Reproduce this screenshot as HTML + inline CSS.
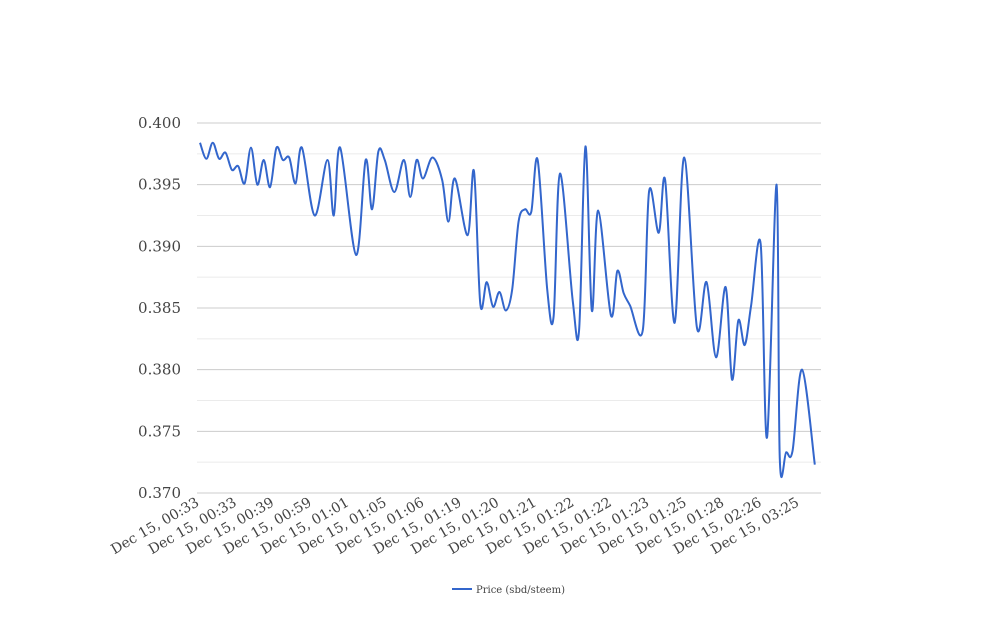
<!DOCTYPE html>
<html><head><meta charset="utf-8"><style>
body{margin:0;background:#fff;width:1008px;height:616px;overflow:hidden}
svg text{font-family:"DejaVu Serif","Liberation Serif",serif;fill:#444}
</style></head><body>
<svg id="chart" width="1008" height="616" xmlns="http://www.w3.org/2000/svg">
<g id="grid"></g>
<g id="yaxis"></g>
<g id="xaxis"></g>
<path id="line" fill="none" stroke="#3366cc" stroke-width="2"></path>
<g>
<line x1="452" y1="589" x2="472" y2="589" stroke="#3366cc" stroke-width="2"/>
<text x="476" y="593" font-size="10" fill="#222">Price (sbd/steem)</text>
</g>
</svg>
<script>
const xLabels=["Dec 15, 00:33","Dec 15, 00:33","Dec 15, 00:39","Dec 15, 00:59","Dec 15, 01:01","Dec 15, 01:05","Dec 15, 01:06","Dec 15, 01:19","Dec 15, 01:20","Dec 15, 01:21","Dec 15, 01:22","Dec 15, 01:22","Dec 15, 01:23","Dec 15, 01:25","Dec 15, 01:28","Dec 15, 02:26","Dec 15, 03:25"];
const yTicks=[0.370,0.375,0.380,0.385,0.390,0.395,0.400];
// sample position (0..100 along time axis) and price
const samplePos=[0,1,2,3,4,5,6,7,8,9,10,11,12,13,14,15,16,18,20,21,22,24.5,26,27,28,29,30.5,32,33,34,35,36.5,38,39,40,42,43,44,45,46,47,48,49,50,51,52,53,54.5,55.5,56.5,58.5,59.5,60.5,61.5,62.5,64.5,65.5,66.5,67.5,69.5,70.5,72,73,74.5,76,78,79.5,81,82.5,83.5,84.5,85.5,86.5,88,89,90.5,91,92,93,94.5,96.5];
const prices=[0.3984,0.3971,0.3984,0.3971,0.3976,0.3962,0.3965,0.3951,0.3980,0.3950,0.3970,0.3948,0.3980,0.3970,0.3972,0.3951,0.3980,0.3925,0.3970,0.3925,0.3980,0.3893,0.3970,0.3930,0.3977,0.3970,0.3944,0.3970,0.3940,0.3970,0.3955,0.3972,0.3954,0.3920,0.3955,0.3909,0.3961,0.3853,0.3871,0.3851,0.3863,0.3848,0.3865,0.3920,0.3930,0.3928,0.3970,0.3865,0.3843,0.3959,0.3856,0.3832,0.3981,0.3848,0.3929,0.3844,0.3880,0.3862,0.3852,0.3832,0.3945,0.3911,0.3954,0.3838,0.3972,0.3834,0.3871,0.3810,0.3867,0.3792,0.3840,0.3820,0.3852,0.3902,0.3745,0.3950,0.3728,0.3733,0.3734,0.3800,0.3723,0.3719];
const NS="http://www.w3.org/2000/svg";
const L=197,R=821,T=123,B=493,yMin=0.370,yMax=0.400,pMax=97;
const px=p=>200+(818-200)*p/pMax;
const py=v=>B-(v-yMin)/(yMax-yMin)*(B-T);
const grid=document.getElementById('grid'),ya=document.getElementById('yaxis'),xa=document.getElementById('xaxis');
function mk(tag,attrs,parent){const e=document.createElementNS(NS,tag);for(const k in attrs)e.setAttribute(k,attrs[k]);parent.appendChild(e);return e;}
for(let i=0;i<yTicks.length;i++){
  const y=py(yTicks[i]);
  const g=mk('line',{x1:L,x2:R,y1:y,y2:y,stroke:'#ccc','stroke-width':1},grid);
  
  
  if(i<yTicks.length-1){const ym=py(yTicks[i]+0.0025);
    const m=mk('line',{x1:L,x2:R,y1:ym,y2:ym,stroke:'#ebebeb','stroke-width':1},grid);
    
    }
  const t=mk('text',{x:181,y:y+5,'text-anchor':'end','font-size':15},ya);
  
  
  t.textContent=yTicks[i].toFixed(3);
}
for(let i=0;i<xLabels.length;i++){
  const x=200+i*(600/(xLabels.length-1));
  const t=mk('text',{x:x,y:505,'text-anchor':'end','font-size':14,transform:`rotate(-30 ${x} 505)`},xa);
  
  
  t.textContent=xLabels[i];
}
const pts=samplePos.map((p,i)=>[px(p),py(prices[i])]);
let d=`M${pts[0][0]},${pts[0][1]}`;
for(let i=0;i<pts.length-1;i++){
  const p0=pts[Math.max(0,i-1)],p1=pts[i],p2=pts[i+1],p3=pts[Math.min(pts.length-1,i+2)];
  const c1=[p1[0]+(p2[0]-p0[0])/6,p1[1]+(p2[1]-p0[1])/6];
  const c2=[p2[0]-(p3[0]-p1[0])/6,p2[1]-(p3[1]-p1[1])/6];
  d+=` C${c1[0]},${c1[1]} ${c2[0]},${c2[1]} ${p2[0]},${p2[1]}`;
}
document.getElementById('line').setAttribute('d',d);
</script>
</body></html>
